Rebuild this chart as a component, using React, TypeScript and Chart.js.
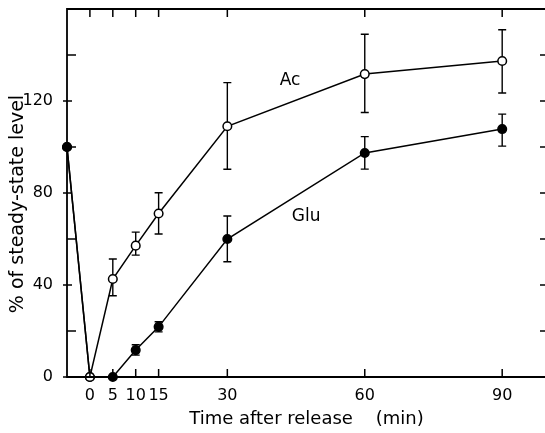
import React, { useEffect, useRef } from 'react';
import { Chart, registerables } from 'chart.js';

Chart.register(...registerables);

// ---- data ----
const times = [-5, 0, 5, 10, 15, 30, 60, 90];
const acValues = [100, 0, 42.6, 57.1, 71.1, 109, 131.7, 137.4];
const acErrHigh = [null, null, 51.3, 63, 80.1, 128, 149, 151];
const acErrLow = [null, null, 35.3, 53, 62.2, 90.3, 115, 123.5];
const gluValues = [100, 0, 0, 11.7, 21.8, 60, 97.4, 107.8];
const gluErrHigh = [null, null, null, 14, 24, 70, 104.5, 114.3];
const gluErrLow = [null, null, null, 9.5, 19.6, 50.1, 90.4, 100.4];
const xTickValues = [0, 5, 10, 15, 30, 60, 90];
const yTickValues = [0, 40, 80, 120];
const yMinorTickValues = [20, 60, 100, 140];
const rightTickValues = [20, 40, 60, 80, 100, 120, 140];
const seriesLabels = ['Ac', 'Glu'];
const labelAnchors = [
  { x: 43.7, y: 129 },
  { x: 47.2, y: 69.7 },
];
const xTitle = 'Time after release    (min)';
const yTitle = '% of steady-state level';

const FONT = '"DejaVu Sans", sans-serif';

const decorPlugin = {
  id: 'decor',
  beforeDatasetsDraw(chart: any) {
    const { ctx, scales } = chart;
    const xs = scales.x;
    const ys = scales.y;
    ctx.save();
    ctx.strokeStyle = '#000';
    ctx.lineWidth = 1.4;
    const drawErr = (hi: any[], lo: any[]) => {
      times.forEach((t, i) => {
        if (hi[i] == null || lo[i] == null) return;
        const px = xs.getPixelForValue(t);
        const y1 = ys.getPixelForValue(hi[i]);
        const y2 = ys.getPixelForValue(lo[i]);
        ctx.beginPath();
        ctx.moveTo(px, y1);
        ctx.lineTo(px, y2);
        ctx.moveTo(px - 4, y1);
        ctx.lineTo(px + 4, y1);
        ctx.moveTo(px - 4, y2);
        ctx.lineTo(px + 4, y2);
        ctx.stroke();
      });
    };
    drawErr(acErrHigh, acErrLow);
    drawErr(gluErrHigh, gluErrLow);
    ctx.restore();
  },
  afterDraw(chart: any) {
    const { ctx, chartArea, scales } = chart;
    const xs = scales.x;
    const ys = scales.y;
    const { left, right, top, bottom } = chartArea;
    ctx.save();
    ctx.strokeStyle = '#000';
    ctx.lineWidth = 1.8;
    ctx.beginPath();
    ctx.moveTo(chart.width, top);
    ctx.lineTo(left, top);
    ctx.lineTo(left, bottom);
    ctx.lineTo(chart.width, bottom);
    ctx.stroke();
    ctx.lineWidth = 1.5;
    ctx.beginPath();
    xTickValues.forEach((v) => {
      const px = xs.getPixelForValue(v);
      ctx.moveTo(px, bottom);
      ctx.lineTo(px, bottom - 8);
      ctx.moveTo(px, top);
      ctx.lineTo(px, top + 8);
    });
    yTickValues.forEach((v) => {
      const py = ys.getPixelForValue(v);
      ctx.moveTo(left - 4, py);
      ctx.lineTo(left + 5, py);
    });
    yMinorTickValues.forEach((v) => {
      const py = ys.getPixelForValue(v);
      ctx.moveTo(left, py);
      ctx.lineTo(left + 9, py);
    });
    rightTickValues.forEach((v) => {
      const py = ys.getPixelForValue(v);
      ctx.moveTo(right, py);
      ctx.lineTo(right - 8, py);
    });
    ctx.stroke();

    ctx.fillStyle = '#000';
    ctx.font = `17px ${FONT}`;
    ctx.textAlign = 'center';
    ctx.textBaseline = 'middle';
    seriesLabels.forEach((lab, i) => {
      ctx.fillText(lab, xs.getPixelForValue(labelAnchors[i].x), ys.getPixelForValue(labelAnchors[i].y));
    });

    ctx.font = `18px ${FONT}`;
    ctx.fillText(xTitle, (left + right) / 2 - 1, 419);
    ctx.font = `19px ${FONT}`;
    ctx.save();
    ctx.translate(18, 204);
    ctx.rotate(-Math.PI / 2);
    ctx.fillText(yTitle, 0, 0);
    ctx.restore();
    ctx.restore();
  },
};

const zeroPad = (s: any) => {
  s.paddingTop = 0;
  s.paddingBottom = 0;
  s.paddingLeft = 0;
  s.paddingRight = 0;
};

export default function App() {
  const canvasRef = useRef<HTMLCanvasElement | null>(null);

  useEffect(() => {
    const canvas = canvasRef.current;
    if (!canvas) return;
    const chart = new Chart(canvas, {
      type: 'line',
      data: {
        datasets: [
          {
            label: 'Glu',
            data: times.map((t, i) => ({ x: t, y: gluValues[i] })),
            borderColor: '#000',
            borderWidth: 1.5,
            pointRadius: 4.3,
            pointBorderWidth: 1.5,
            pointBackgroundColor: '#000',
            pointBorderColor: '#000',
            clip: false,
            order: 2,
          },
          {
            label: 'Ac',
            data: times.map((t, i) => ({ x: t, y: acValues[i] })),
            borderColor: '#000',
            borderWidth: 1.5,
            pointRadius: 4.3,
            pointBorderWidth: 1.5,
            pointBackgroundColor: (c: any) => (c.dataIndex === 0 ? '#000' : '#fff'),
            pointBorderColor: '#000',
            clip: false,
            order: 1,
          },
        ],
      },
      options: {
        animation: false,
        responsive: false,
        devicePixelRatio: 1,
        layout: { padding: { left: 0, top: 9, right: 12, bottom: 0 } },
        plugins: { legend: { display: false }, tooltip: { enabled: false } },
        scales: {
          x: {
            type: 'linear',
            min: -5,
            max: 100,
            afterBuildTicks: (s: any) => {
              s.ticks = xTickValues.map((v) => ({ value: v }));
            },
            afterFit: (s: any) => {
              s.height = 56;
              zeroPad(s);
            },
            grid: { display: false },
            border: { display: false },
            ticks: {
              color: '#000',
              font: { family: FONT, size: 16 },
              padding: 1,
              maxRotation: 0,
              autoSkip: false,
            },
          },
          y: {
            type: 'linear',
            min: 0,
            max: 160,
            afterBuildTicks: (s: any) => {
              s.ticks = yTickValues.map((v) => ({ value: v }));
            },
            afterFit: (s: any) => {
              s.width = 67;
              zeroPad(s);
            },
            grid: { display: false },
            border: { display: false },
            ticks: {
              color: '#000',
              font: { family: FONT, size: 16 },
              padding: 6,
            },
          },
        },
      },
      plugins: [decorPlugin],
    } as any);
    return () => chart.destroy();
  }, []);

  return (
    <div style={{ position: 'fixed', left: 0, top: 0, width: 545, height: 433, overflow: 'hidden', background: '#fff' }}>
      <canvas ref={canvasRef} width={560} height={433} style={{ display: 'block' }} />
    </div>
  );
}
